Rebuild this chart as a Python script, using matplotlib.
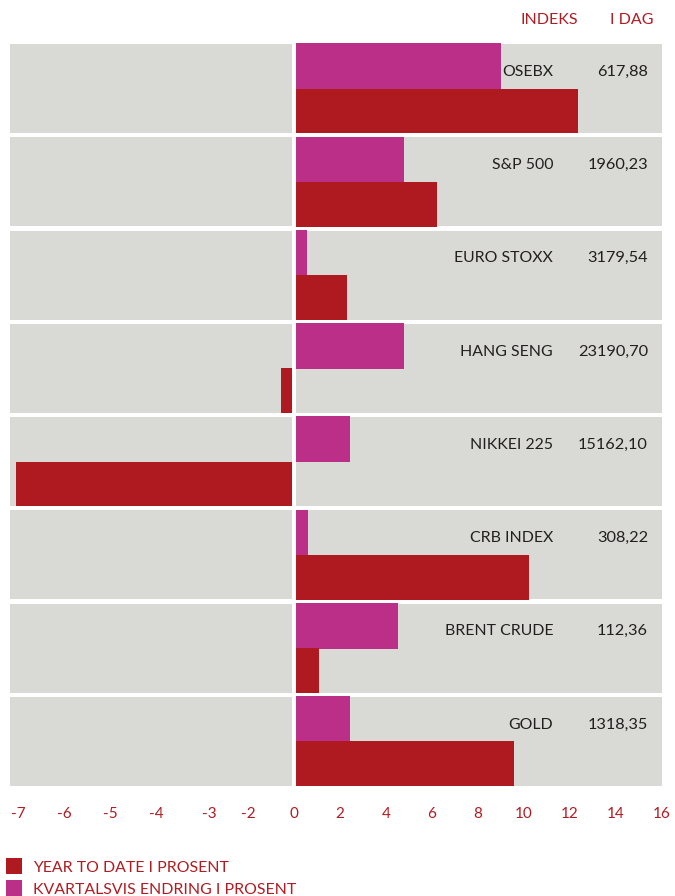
import matplotlib
matplotlib.use('Agg')
import matplotlib.pyplot as plt
import matplotlib.transforms as mtransforms
from matplotlib.patches import Rectangle

plt.rcParams['font.family'] = ['Lato', 'DejaVu Sans']

indekser = ['OSEBX', 'S&P 500', 'EURO STOXX', 'HANG SENG', 'NIKKEI 225', 'CRB INDEX', 'BRENT CRUDE', 'GOLD']
i_dag = ['617,88', '1960,23', '3179,54', '23190,70', '15162,10', '308,22', '112,36', '1318,35']
# verdier lest av figuren (aksen er ikke lineær på venstre side)
kvartal = [9.0, 4.8, 0.55, 4.8, 2.45, 0.6, 4.5, 2.45]
ytd = [12.35, 6.2, 2.3, -0.55, -12.1, 10.2, 1.1, 9.55]
tick_pos = [-12, -10, -8, -6, -3.7, -2, 0, 2, 4, 6, 8, 10, 12, 14, 16]
tick_lab = ['-7', '-6', '-5', '-4', '-3', '-2', '0', '2', '4', '6', '8', '10', '12', '14', '16']

rod = '#AF1920'
magenta = '#BB2F88'
gra = '#D9DAD5'
tekst_rod = '#B01C22'

fig = plt.figure(figsize=(6.75, 8.96), dpi=100)
ax = fig.add_axes([10/675, 1 - 788/896, 652/675, 746/896])

xmin, xmax = -12.35, 16
n = len(indekser)
for i in range(n):
    # grå bakgrunn, to paneler med hvit strek ved null
    ax.add_patch(Rectangle((xmin, i - 0.478), -0.09 - xmin, 0.956, color=gra, lw=0, zorder=0))
    ax.add_patch(Rectangle((0.09, i - 0.478), xmax - 0.09, 0.956, color=gra, lw=0, zorder=0))

y = list(range(n))
ax.barh([v - 0.24 for v in y], kvartal, height=0.49, color=magenta, zorder=2)
ax.barh([v + 0.24 for v in y], ytd, height=0.48, color=rod, zorder=2)
ax.axvline(0, color='white', lw=2.9, zorder=3)

trans = mtransforms.blended_transform_factory(ax.transAxes, ax.transData)
for i in range(n):
    ax.text(0.833, i - 0.18, indekser[i], transform=trans, ha='right', va='center',
            fontsize=11.4, color='#231F20', zorder=4)
    ax.text(0.9785, i - 0.18, i_dag[i], transform=trans, ha='right', va='center',
            fontsize=11.8, color='#231F20', zorder=4)

ax.set_xlim(xmin, xmax)
ax.set_ylim(n - 0.5, -0.5)
ax.set_yticks([])
ax.set_xticks(tick_pos, tick_lab)
ax.tick_params(axis='x', length=0, pad=13.5, labelsize=11, labelcolor=tekst_rod)
for s in ax.spines.values():
    s.set_visible(False)

fig.text(578/675, 1 - 20/896, 'INDEKS', ha='right', va='center', fontsize=11.5, color=tekst_rod)
fig.text(654/675, 1 - 20/896, 'I DAG', ha='right', va='center', fontsize=11.5, color=tekst_rod)

# forklaring
for yy, farge, navn in [(866, rod, 'YEAR TO DATE I PROSENT'), (888, magenta, 'KVARTALSVIS ENDRING I PROSENT')]:
    fig.patches.append(Rectangle((6/675, 1 - (yy + 8)/896), 16/675, 16/896,
                                 transform=fig.transFigure, color=farge, lw=0))
    fig.text(33/675, 1 - (yy + 2)/896, navn, ha='left', va='center', fontsize=11.4, color=tekst_rod)

plt.savefig('out.png', dpi=100)
